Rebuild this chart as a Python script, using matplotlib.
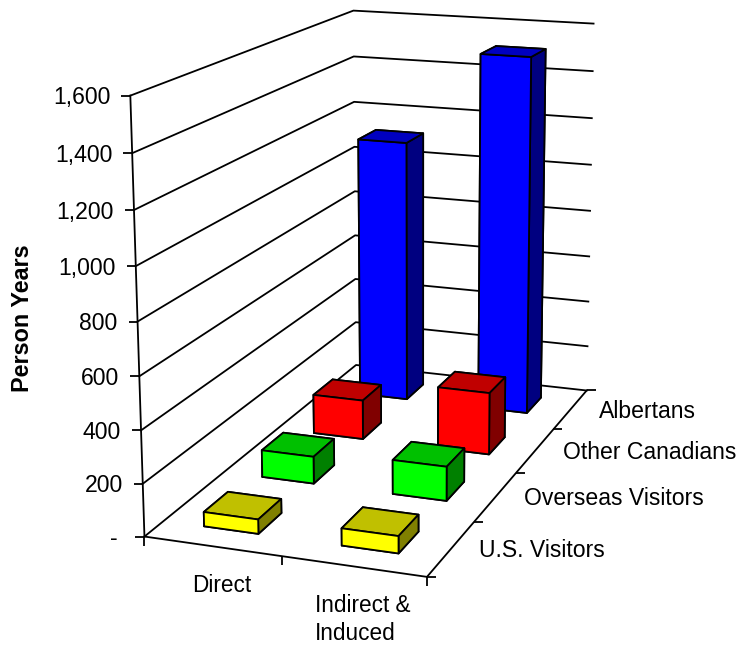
#!/usr/bin/env python
# 3-D column chart of person years by visitor origin

import numpy as np
import matplotlib
matplotlib.use("Agg")
import matplotlib.pyplot as plt
from mpl_toolkits.mplot3d import proj3d

plt.rcParams['font.family'] = ['Liberation Sans', 'DejaVu Sans']

# -----------------------------------------------------------------

categories = ["Direct", "Indirect &\nInduced"]
series_labels = ["U.S. Visitors", "Overseas Visitors", "Other Canadians", "Albertans"]
us_visitors = [55, 65]
overseas_visitors = [108, 135]
other_canadians = [163, 255]
albertans = [1117, 1509]
series_values = [us_visitors, overseas_visitors, other_canadians, albertans]
value_ticks = [0, 200, 400, 600, 800, 1000, 1200, 1400, 1600]
value_tick_labels = ["- ", "200", "400", "600", "800", "1,000", "1,200", "1,400", "1,600"]

# front, top and side colours of each series
front_colors = ["#ffff00", "#00ff00", "#ff0000", "#0000ff"]
top_colors = ["#c0c000", "#00c000", "#c00000", "#0000c0"]
side_colors = ["#808000", "#008000", "#800000", "#000080"]

FONT_SIZE = 16.6
BAR_SIZE = 0.4
LINE_WIDTH = 1.3

# -----------------------------------------------------------------

## Fit a perspective matrix sending (category, series, value) to the given screen pixels.
def fit_projection(ax, corners, pixels, fig_height):
    targets = ax.transData.inverted().transform([(px, fig_height - py) for px, py in pixels])
    rows, rhs = [], []
    for (x, y, z), (u, v) in zip(corners, targets):
        z = z / 1600.
        rows.append([x, y, z, 1, 0, 0, 0, 0, -u*x, -u*y, -u*z])
        rhs.append(u)
        rows.append([0, 0, 0, 0, x, y, z, 1, -v*x, -v*y, -v*z])
        rhs.append(v)
    p = np.linalg.lstsq(np.array(rows), np.array(rhs), rcond=None)[0]
    scale = np.array([1, 1, 1/1600., 1])
    return np.array([p[0:4]*scale, p[4:8]*scale, [0, 0, 0, -1],
                     np.append(p[8:11], 1)*scale])


fig = plt.figure(figsize=(7.38, 6.45), dpi=100)
ax = fig.add_axes([0, 0, 1, 1], projection='3d')
ax.set_axis_off()
ax.computed_zorder = False
ax.apply_aspect()

n_cat = len(categories)
n_ser = len(series_labels)
top = value_ticks[-1]

# floor and wall corners of the chart box with their screen positions
box_corners = [(0, 0, 0), (n_cat, 0, 0), (n_cat, n_ser, 0), (0, n_ser, 0),
               (0, 0, top), (0, n_ser, top), (n_cat, n_ser, top)]
box_pixels = [(145, 537), (426, 577), (587, 390), (356, 365),
              (130.7, 95), (352.7, 10.7), (594, 24)]
M = fit_projection(ax, box_corners, box_pixels, 645)
ax.get_proj = lambda: M
ax.M = M

line_style = dict(color='black', linewidth=LINE_WIDTH, zorder=1)

# gridlines along the two walls, and the floor edges
for value in value_ticks:
    ax.plot([0, 0, n_cat], [0, n_ser, n_ser], [value, value, value], **line_style)
ax.plot([0, 0], [0, 0], [0, top], **line_style)
ax.plot([0, n_cat, n_cat], [0, 0, n_ser], [0, 0, 0], **line_style)

# tick marks
tick_style = dict(color='black', linestyle='none', markersize=6.5, markeredgewidth=LINE_WIDTH, zorder=1)
ax.plot([0]*len(value_ticks), [0]*len(value_ticks), value_ticks, marker=0, **tick_style)
ax.plot(list(range(n_cat + 1)), [0]*(n_cat + 1), [0]*(n_cat + 1), marker=3, **tick_style)
ax.plot([n_cat]*(n_ser + 1), list(range(n_ser + 1)), [0]*(n_ser + 1), marker=1, **tick_style)

# columns, back rows first
for j in reversed(range(n_ser)):
    for i in range(n_cat):
        colors = [top_colors[j], top_colors[j], front_colors[j], front_colors[j],
                  side_colors[j], side_colors[j]]
        ax.bar3d(i + 0.5 - BAR_SIZE/2, j + 0.5 - BAR_SIZE/2, 0, BAR_SIZE, BAR_SIZE,
                 series_values[j][i], color=colors, shade=False, edgecolor='black',
                 linewidth=LINE_WIDTH, zorder=10 + n_ser - j + i*0.1)


## Place a text at a data position, shifted by a number of pixels.
def label_at(x, y, z, text, offset, **kwargs):
    kwargs.setdefault('fontsize', FONT_SIZE)
    px, py, _ = proj3d.proj_transform(x, y, z, M)
    ax.annotate(text, xy=(px, py), xytext=offset, textcoords='offset pixels',
                annotation_clip=False, **kwargs)


for value, text in zip(value_ticks, value_tick_labels):
    label_at(0, 0, value, text, (-20, -2), ha='right', va='center')
for i, text in enumerate(categories):
    label_at(i + 0.5, 0, 0, text, (9, -28), ha='center', va='top', multialignment='left',
             linespacing=1.28, fontsize=16.3)
for j, text in enumerate(series_labels):
    label_at(n_cat, j + 0.5, 0, text, (28, -2), ha='left', va='center')

fig.text(23/738., 1 - 318/645., "Person Years", rotation=90, ha='center', va='center',
         fontsize=16.8, fontweight='bold')

fig.savefig("out.png", dpi=100)
